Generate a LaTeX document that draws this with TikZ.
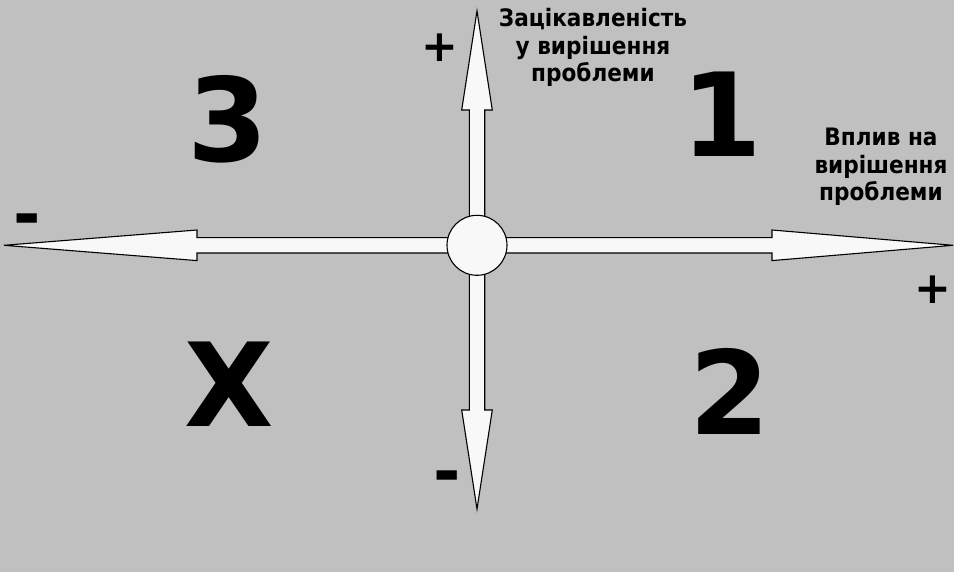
\documentclass[tikz,border=0pt]{standalone}
\usepackage{fontspec}
\newfontfamily\lblfont{DejaVu Sans}[FakeStretch=0.9]
\newfontfamily\bigfont{DejaVu Sans}
\definecolor{bgcol}{HTML}{C0C0C0}
\definecolor{arrowfill}{HTML}{F8F8F8}
\tikzset{
  arrowshape/.style={draw=black, fill=arrowfill, line width=1.1pt, line join=miter},
  hub/.style={circle, draw=black, fill=arrowfill, line width=1.1pt, minimum size=60pt, inner sep=0pt},
  quadlabel/.style={font=\bigfont\bfseries\fontsize{116}{116}\selectfont, inner sep=0pt, anchor=center},
  axislabel/.style={font=\lblfont\bfseries\fontsize{24}{27}\selectfont, inner sep=0pt, anchor=base},
  signlabel/.style={font=\bigfont\bfseries\fontsize{44}{44}\selectfont, inner sep=0pt, anchor=center},
  minuslabel/.style={font=\bigfont\bfseries\fontsize{66}{66}\selectfont, inner sep=0pt, anchor=center},
}
\begin{document}
\begin{tikzpicture}[x=1pt,y=-1pt]
\fill[bgcol] (0,0) rectangle (954,572);
\useasboundingbox (0,0) rectangle (954,572);
\coordinate (O) at (477,245.3);
\coordinate (L) at (4,245.3);
\coordinate (R) at (953,245.3);
\coordinate (T) at (477,11);
\coordinate (B) at (477,509);
% horizontal double arrow
\draw[arrowshape] (L) -- ++(193,-15.3) -- ++(0,7.6) -- ++(575,0) -- ++(0,-7.6)
  -- (R) -- ++(-181,15.3) -- ++(0,-7.6) -- ++(-575,0) -- ++(0,7.6) -- cycle;
% vertical double arrow
\draw[arrowshape] (T) -- ++(15.3,99) -- ++(-7.6,0) -- ++(0,300) -- ++(7.6,0)
  -- (B) -- ++(-15.3,-99) -- ++(7.6,0) -- ++(0,-300) -- ++(-7.6,0) -- cycle;
\node[hub] (hub) at (O) {};
% quadrant labels
\node[quadlabel] (q3) at (228,119) {3};
\node[quadlabel] (q1) at (722,114) {1};
\node[quadlabel] (qx) at (229,384.5) {X};
\node[quadlabel] (q2) at (730,391) {2};
% signs
\node[signlabel] (ptop) at (440,48) {+};
\node[signlabel] (pright) at (932.5,290) {+};
\node[minuslabel] (mleft) at (27.5,225.5) {-};
\node[minuslabel] (mbottom) at (447.5,482.5) {-};
% axis titles
\node[axislabel] (ty1) at (593,27) {Зацікавленість};
\node[axislabel] (ty2) at (593,55) {у вирішення};
\node[axislabel] (ty3) at (593,82) {проблеми};
\node[axislabel] (tx1) at (881,146) {Вплив на};
\node[axislabel] (tx2) at (881,174) {вирішення};
\node[axislabel] (tx3) at (881,201) {проблеми};
\end{tikzpicture}
\end{document}
